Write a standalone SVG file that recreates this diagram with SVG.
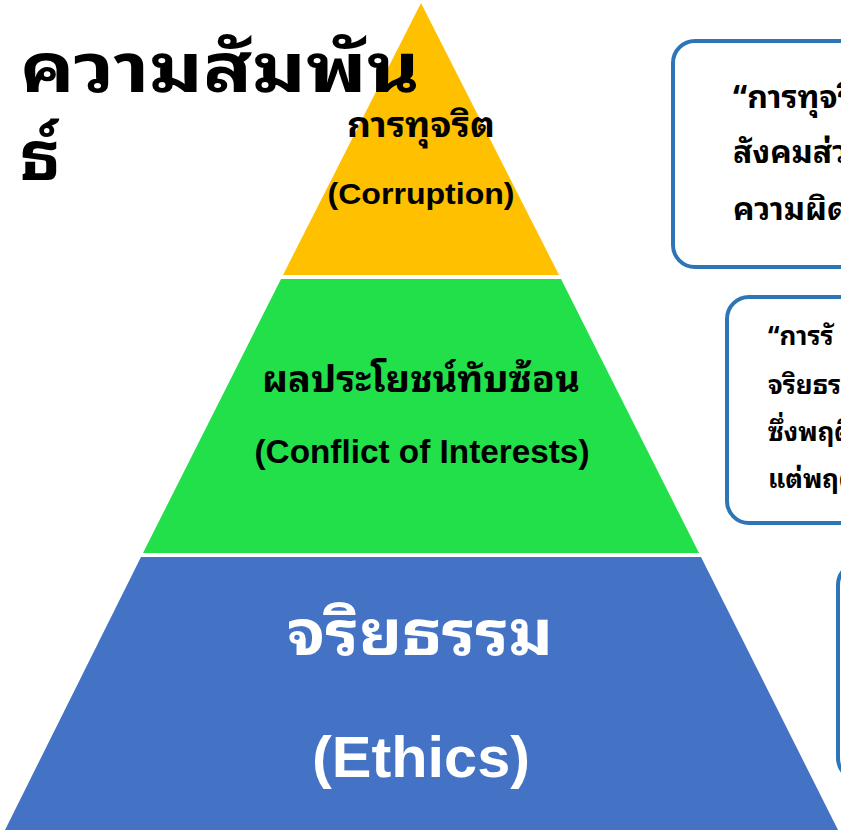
<svg xmlns="http://www.w3.org/2000/svg" width="841" height="832" viewBox="0 0 841 832">
<style>
.th{font-family:"Noto Sans Thai Looped","Noto Serif Thai","Loma","Garuda","Noto Sans Thai","Noto Sans",sans-serif;font-weight:bold}
.en{font-family:"Liberation Sans",Arial,sans-serif;font-weight:bold}
.box{fill:#fff;stroke:#2E75B6;stroke-width:4}
</style>
<rect width="841" height="832" fill="#fff"/>
<g id="layer-corruption">
<polygon points="421,3 559,275 283,275" fill="#FFC000"/>
<text class="th" x="421" y="137" font-size="34" text-anchor="middle" fill="#000" textLength="148" lengthAdjust="spacingAndGlyphs">การทุจริต</text>
<text class="en" x="421" y="204" font-size="30" text-anchor="middle" fill="#000" textLength="187" lengthAdjust="spacingAndGlyphs">(Corruption)</text>
</g>
<g id="layer-conflict">
<polygon points="281,279 561,279 699,553 143,553" fill="#22E04A"/>
<text class="th" x="421" y="392" font-size="36" text-anchor="middle" fill="#000" textLength="318" lengthAdjust="spacingAndGlyphs">ผลประโยชน์ทับซ้อน</text>
<text class="en" x="422" y="463" font-size="33" text-anchor="middle" fill="#000" textLength="335" lengthAdjust="spacingAndGlyphs">(Conflict of Interests)</text>
</g>
<g id="layer-ethics">
<polygon points="141,557 701,557 838,830 5,830" fill="#4472C4"/>
<text class="th" x="420" y="655" font-size="62" text-anchor="middle" fill="#fff" textLength="266" lengthAdjust="spacingAndGlyphs">จริยธรรม</text>
<text class="en" x="421" y="777" font-size="58" text-anchor="middle" fill="#fff" textLength="218" lengthAdjust="spacingAndGlyphs">(Ethics)</text>
</g>
<g id="title">
<text class="th" x="20" y="92" font-size="68" fill="#000" textLength="400" lengthAdjust="spacingAndGlyphs">ความสัมพัน</text>
<text class="th" x="20" y="180" font-size="68" fill="#000">ธ์</text>
</g>
<g id="box-corruption">
<rect class="box" x="673" y="41" width="220" height="226" rx="22"/>
<text class="th" x="733" y="108" font-size="32" fill="#000">“การทุจริ</text>
<text class="th" x="733" y="163" font-size="32" fill="#000">สังคมส่วน</text>
<text class="th" x="733" y="220" font-size="32" fill="#000">ความผิดก</text>
</g>
<g id="box-conflict">
<rect class="box" x="727" y="297" width="180" height="226" rx="22"/>
<text class="th" x="768" y="345" font-size="26" fill="#000">“การรั</text>
<text class="th" x="768" y="394" font-size="26" fill="#000">จริยธรร</text>
<text class="th" x="768" y="441" font-size="26" fill="#000">ซึ่งพฤติ</text>
<text class="th" x="768" y="488" font-size="26" fill="#000">แต่พฤติ</text>
</g>
<g id="box-ethics">
<rect class="box" x="838" y="563" width="120" height="217" rx="22"/>
</g>
</svg>
